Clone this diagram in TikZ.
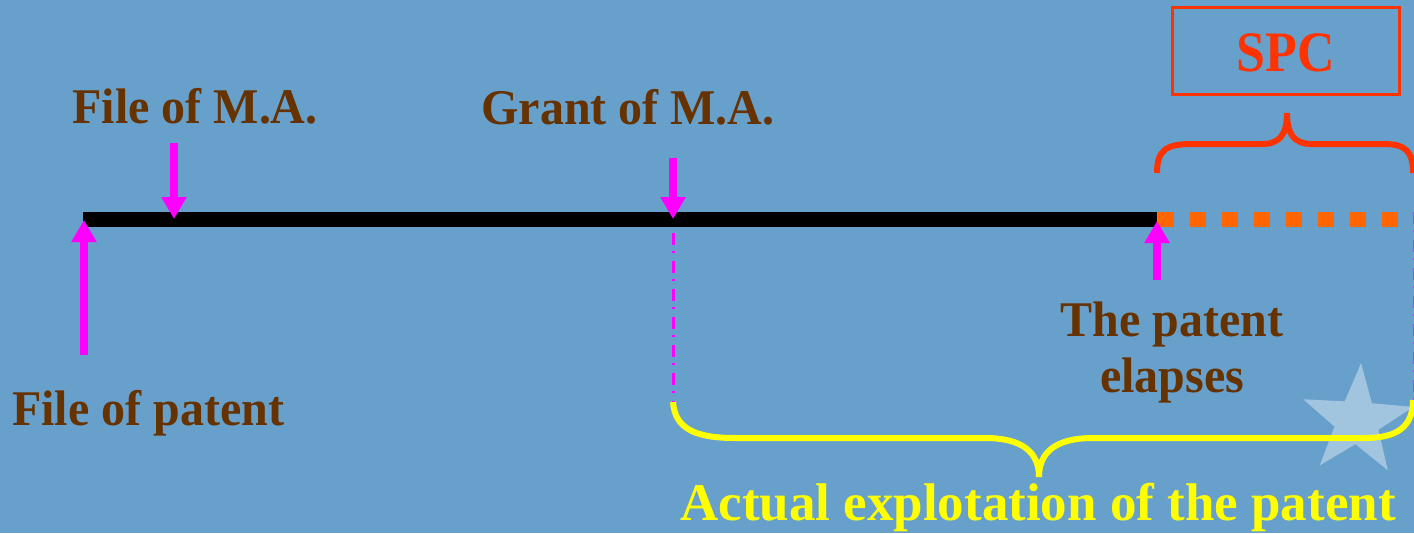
\documentclass[tikz,border=0pt]{standalone}
\usepackage{fontspec}
\setmainfont{Liberation Serif}
\usetikzlibrary{arrows.meta,shapes.geometric}
\definecolor{bgblue}{RGB}{104,160,204}
\definecolor{brownt}{RGB}{102,51,0}
\definecolor{magent}{RGB}{255,0,255}
\definecolor{orangesq}{RGB}{255,102,0}
\definecolor{redbr}{RGB}{255,51,0}
\definecolor{yel}{RGB}{255,255,0}
\newcommand{\tallish}[1]{\scalebox{1}[1.04]{#1}}
\tikzset{
  lbl/.style={text=brownt, font=\fontsize{48}{56}\selectfont\bfseries, inner sep=0pt, anchor=base},
  marr/.style={draw=magent, line width=8pt, -{Triangle[width=24pt,length=22pt]}},
  dashdot/.style={draw=magent, line width=3pt, dash pattern=on 12pt off 6pt on 2pt off 8pt},
  bracered/.style={draw=redbr, line width=6pt},
  braceyel/.style={draw=yel, line width=6pt},
}
\begin{document}
\begin{tikzpicture}[x=1pt,y=-1pt]
\useasboundingbox (0,0) rectangle (1414,533);
\fill[bgblue] (0,0) rectangle (1414,533);

% star
\node[star, star points=5, star point ratio=2.5, minimum size=116pt, fill=white, fill opacity=0.38, draw=none, rotate=-4, inner sep=0pt] (star) at (1357,421) {};

% timeline
\coordinate (t0) at (83,219);
\coordinate (tend) at (1157,219);
\coordinate (spcend) at (1398,219);
\draw[black, line width=15pt] (t0) -- (tend);
\draw[orangesq, line width=15pt, dash pattern=on 16pt off 16pt] (1158,219) -- (spcend);

% labels
\node[lbl] (filema) at (195,123) {\tallish{File of M.A.}};
\node[lbl] (grant) at (628,124) {\tallish{Grant of M.A.}};
\node[lbl] (filepat) at (148,425) {\tallish{File of patent}};
\node[lbl] (elap1) at (1172,336) {\tallish{The patent}};
\node[lbl] (elap2) at (1172,392) {\tallish{elapses}};
\node[text=yel, font=\fontsize{53}{60}\selectfont\bfseries, inner sep=0pt, anchor=base] (actual) at (1038,520) {Actual explotation of the patent};

% SPC box
\node[draw=redbr, line width=3pt, minimum width=227pt, minimum height=87pt, inner sep=0pt] (spcbox) at (1286,50.5) {};
\node[text=redbr, font=\fontsize{52}{60}\selectfont\bfseries, inner sep=0pt, anchor=base] (spc) at (1286,71) {\scalebox{1}[1.1]{SPC}};

% arrows
\coordinate (a1s) at (84,355);  \coordinate (a1e) at (84,220);
\coordinate (a2s) at (174,143); \coordinate (a2e) at (174,219);
\coordinate (a3s) at (673,158); \coordinate (a3e) at (673,219);
\coordinate (a4s) at (1157,280); \coordinate (a4e) at (1157,221);
\draw[marr] (a1s) -- (a1e);
\draw[marr] (a2s) -- (a2e);
\draw[marr] (a3s) -- (a3e);
\draw[marr] (a4s) -- (a4e);

% dash-dot guide lines
\coordinate (g1) at (673,233);
\coordinate (g2) at (673,416);
\draw[dashdot] (g1) -- (g2);
\coordinate (g3) at (1414,212);
\coordinate (g4) at (1414,400);
\draw[dashdot, draw opacity=0.6] (g3) -- (g4);

% red brace
\coordinate (rb1) at (1157,173);
\coordinate (rbtip) at (1287,113);
\coordinate (rb2) at (1413,173);
\draw[bracered] (rb1) .. controls (1157,150) and (1166,144) .. (1192,144)
  -- (1262,144) .. controls (1280,144) and (1287,134) .. (rbtip)
  .. controls (1287,134) and (1294,144) .. (1312,144)
  -- (1384,144) .. controls (1406,144) and (1413,152) .. (rb2);

% yellow brace
\coordinate (yb1) at (673,402);
\coordinate (ybtip) at (1039,477);
\coordinate (yb2) at (1413,400);
\draw[braceyel] (yb1) .. controls (675,428) and (694,438) .. (735,438)
  -- (985,438) .. controls (1022,438) and (1039,452) .. (ybtip)
  .. controls (1039,452) and (1056,438) .. (1093,438)
  -- (1365,438) .. controls (1398,438) and (1413,426) .. (yb2);
\end{tikzpicture}
\end{document}
